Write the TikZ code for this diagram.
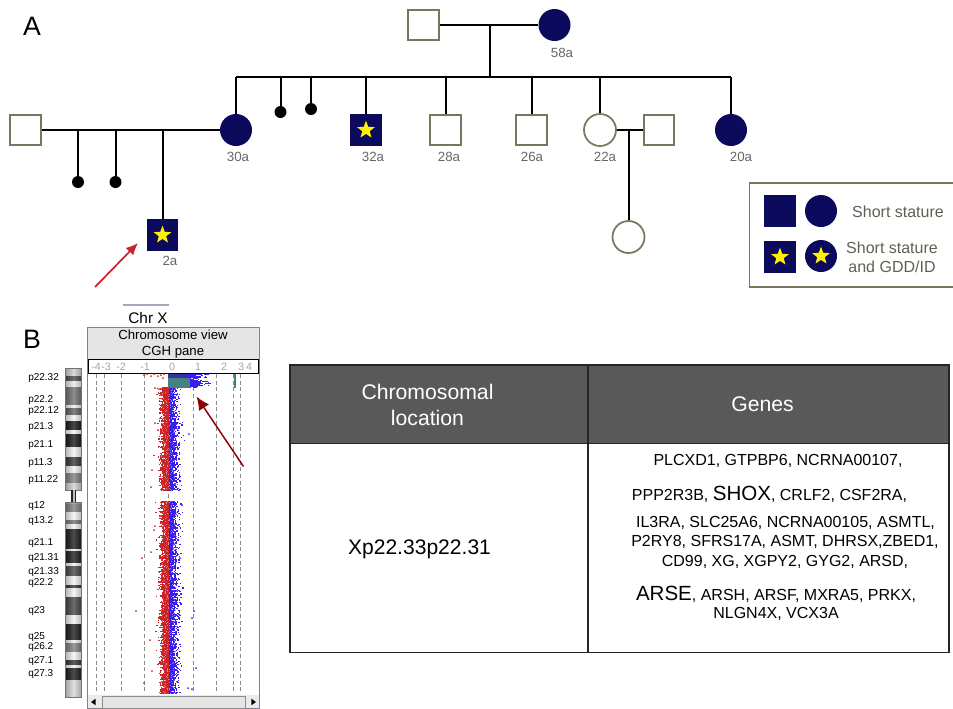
\documentclass[tikz,border=0pt]{standalone}
\usepackage{fontspec}
\setmainfont{Liberation Sans}
\usepackage{tikz}
\usetikzlibrary{shapes.geometric,arrows,arrows.meta,positioning}
\definecolor{navyfill}{HTML}{0B0A5C}
\definecolor{oliveline}{HTML}{77775F}
\definecolor{legendtext}{HTML}{5E6152}
\definecolor{agetext}{HTML}{666666}
\definecolor{headgrey}{HTML}{595959}
\definecolor{paneblue}{HTML}{3A1EF0}
\definecolor{panered}{HTML}{CC2428}
\tikzset{
  openbox/.style={rectangle,draw=oliveline,fill=white,line width=1.5pt,minimum size=23pt,inner sep=0pt},
  opencirc/.style={circle,draw=oliveline,fill=white,line width=1.3pt,minimum size=24pt,inner sep=0pt},
  sickbox/.style={rectangle,fill=navyfill,minimum size=23.5pt,inner sep=0pt},
  sickcirc/.style={circle,fill=navyfill,minimum size=24pt,inner sep=0pt},
  staricon/.style={star,star points=5,star point ratio=2.4,fill=yellow,inner sep=0pt,minimum size=14pt},
  lolli/.style={circle,fill=black,minimum size=9pt,inner sep=0pt},
  agelab/.style={text=agetext,font=\fontsize{10}{11}\selectfont},
  bandlab/.style={anchor=west,inner sep=0pt,font=\fontsize{7.5}{9}\selectfont},
  genelab/.style={inner sep=0pt,font=\fontsize{12}{14}\selectfont},
  leglab/.style={text=legendtext,align=center,font=\fontsize{12}{14.4}\selectfont},
  heavy/.style={line width=1.5pt,black}
}
\begin{document}
\begin{tikzpicture}[x=0.75pt,y=-0.75pt]
   \useasboundingbox (0,0) rectangle (953,708);
   \node[font=\fontsize{20}{22}\selectfont] (panelA) at (32,26) {A};
   \node[font=\fontsize{20}{22}\selectfont] (panelB) at (32,339) {B};

   \node[openbox] (gf) at (423.5,25) {};
   \node[sickcirc] (gm) at (554.5,25) {};
   \node[sickcirc] (c30) at (236,130) {};
   \node[lolli] (d1) at (280.5,112) {};
   \node[lolli] (d2) at (311,109) {};
   \node[sickbox] (s32) at (366,130) {};
   \node[staricon] (star32) at (366,130) {};
   \node[openbox] (s28) at (445.5,130) {};
   \node[openbox] (s26) at (531.5,130) {};
   \node[opencirc] (c22) at (600,130) {};
   \node[openbox] (sp22) at (659,130) {};
   \node[sickcirc] (c20) at (731,130) {};
   \node[openbox] (sp30) at (25.5,130) {};
   \node[lolli] (d3) at (78,182) {};
   \node[lolli] (d4) at (115.5,182) {};
   \node[sickbox] (s2) at (162.5,235) {};
   \node[staricon] (star2) at (162.5,235) {};
   \node[opencirc] (c0) at (628.5,237) {};

   \coordinate (top) at (489.5,25);
   \coordinate (bar) at (489.5,77);
   \coordinate (low) at (162.5,130);
   \coordinate (mid) at (628.5,130);
   \begin{scope}[every path/.style={heavy}]
    \draw (gf) -- (gm);
    \draw (top) -- (bar);
    \draw (c30 |- bar) -- (c20 |- bar);
    \draw (c30 |- bar) -- (c30);
    \draw (d1 |- bar) -- (d1);
    \draw (d2 |- bar) -- (d2);
    \draw (s32 |- bar) -- (s32);
    \draw (s28 |- bar) -- (s28);
    \draw (s26 |- bar) -- (s26);
    \draw (c22 |- bar) -- (c22);
    \draw (c20 |- bar) -- (c20);
    \draw (sp30) -- (c30);
    \draw (d3 |- sp30) -- (d3);
    \draw (d4 |- sp30) -- (d4);
    \draw (low) -- (s2);
    \draw (c22) -- (sp22);
    \draw (mid) -- (c0);
   \end{scope}

   \node[agelab] (a58) at (562,52.5) {58a};
   \node[agelab] (a30) at (238,156.5) {30a};
   \node[agelab] (a32) at (373,157) {32a};
   \node[agelab] (a28) at (449,157) {28a};
   \node[agelab] (a26) at (532,157) {26a};
   \node[agelab] (a22) at (605,157) {22a};
   \node[agelab] (a20) at (741,157) {20a};
   \node[agelab] (a2) at (170,261) {2a};

   \coordinate (redtail) at (95,287);
   \coordinate (redhead) at (138,243);
   \draw[-{Latex[length=9pt,width=8pt]},line width=1.3pt,panered] (redtail) -- (redhead);

   \coordinate (lega) at (953,183);
   \coordinate (legb) at (749.5,183);
   \coordinate (legc) at (749.5,287);
   \coordinate (legd) at (953,287);
   \draw[oliveline,line width=1pt] (lega) -- (legb) -- (legc) -- (legd);
   \node[sickbox] (k1) at (780,211) {};
   \node[sickcirc] (k2) at (821,211) {};
   \node[sickbox] (k3) at (780,257) {};
   \node[staricon] (k3s) at (780,257) {};
   \node[sickcirc] (k4) at (821,256) {};
   \node[staricon] (k4s) at (821,256) {};
   \node[leglab] (kt1) at (898,212) {Short stature};
   \node[leglab] (kt2) at (892,257) {Short stature\\and GDD/ID};

   \coordinate (chra) at (123,305);
   \coordinate (chrb) at (169,305);
   \draw[line width=1.2pt,blue!25!black!35] (chra) -- (chrb);
   \node[font=\fontsize{11.5}{13}\selectfont] (chrx) at (148,318) {Chr X};

   \fill[black!10] (87,327) rectangle (259,360);
   \draw[blue!15!black!50,line width=0.7pt] (87,327) rectangle (259,708);
   \node[align=center,font=\fontsize{9.9}{12}\selectfont] (panetitle) at (173,344) {Chromosome view\\CGH pane};
   \draw[black,line width=0.7pt,fill=white] (88,359.5) rectangle (258,373);
   \foreach \xx/\lab in {96/-4,106/-3,121/-2,145/-1,172/0,198/1,224/2,241/3,249/4}
     \node[text=black!35,inner sep=0pt,font=\fontsize{8}{9}\selectfont] (sc\xx) at (\xx,366.5) {\lab};
   \foreach \xx in {96,104,121,144,168,193,216,233,240}
     \draw[densely dashed,black!45,line width=0.4pt] (\xx,374) -- (\xx,694);

   \pgfmathsetseed{4217}
   \foreach \yy in {388,389.2,...,491,501,502.2,...,694} {
     \pgfmathsetmacro{\wa}{3+5.5*rnd}
     \pgfmathsetmacro{\wb}{3.5+6*rnd}
     \pgfmathsetmacro{\ea}{\wa+7*rnd*rnd*rnd+1}
     \pgfmathsetmacro{\eb}{\wb+7*rnd*rnd*rnd+1}
     \pgfmathsetmacro{\ga}{\wa*rnd}
     \pgfmathsetmacro{\gb}{\wb*rnd}
     \fill[panered] (168-\wa,\yy) rectangle (168.5,\yy+1.2);
     \fill[paneblue] (168.5,\yy) rectangle (168.5+\wb,\yy+1.2);
     \fill[panered] (168-\ea,\yy) rectangle (169.5-\ea,\yy+1.2);
     \fill[paneblue] (168.5+\eb,\yy) rectangle (170+\eb,\yy+1.2);
     \fill[panered!55!white] (168-\ga,\yy) rectangle (168.6-\ga,\yy+0.7);
     \fill[paneblue!55!white] (168.5+\gb,\yy) rectangle (169.1+\gb,\yy+0.7);
   }
   \foreach \xx/\yy in {136/611,142/558,144/683,151/552,150/640,152/671,155/423,152/470,158/430,151/487,154/530,155/526}
     \fill[panered] (\xx,\yy) circle (1);
   \foreach \xx/\yy in {194/611,192/618,196/668,188/688,192/689,180/558,182/505,189/434}
     \fill[paneblue] (\xx,\yy) circle (1);
   \foreach \yy in {374,375,...,387} {
     \pgfmathsetmacro{\wb}{20+16*rnd}
     \fill[paneblue] (168,\yy) rectangle (168+\wb,\yy+1);
     \fill[paneblue] (168+\wb+7*rnd,\yy) rectangle (170+\wb+7*rnd,\yy+1);
   }
   \foreach \xx/\yy in {144/375,147/374,151/376,154/374,158/376,161/375,164/374,163/378,155/388,159/389}
     \fill[panered] (\xx,\yy) circle (1);
   \fill[panered] (162,387) rectangle (168,392);
   \fill[blue!50!black!80] (168,374) rectangle (185,378);
   \fill[teal!45!gray] (168,378) rectangle (190,387.5);
   \fill[teal!50!gray] (234.3,374) rectangle (235.7,388);

   \foreach \ya/\yb/\gv in {368/376/18,376/381/70,381/387/8,387/405/55,405/408/5,408/415/62,415/421/5,421/430/90,430/434/5,434/447/90,447/457/5,457/466/78,466/473/5,473/483/50,483/490/18,
     502/504/40,504/512/50,512/520/5,520/524/55,524/529/5,529/549/88,549/551/5,551/563/88,563/566/5,566/576/72,576/585/5,585/588/80,588/597/5,597/615/72,615/624/5,624/640/88,640/643/5,643/652/50,652/660/5,660/665/80,665/668/5,668/680/88,680/697/15}
     \shade[left color=black!\gv!white!75!black,right color=black!\gv!white!75!black,middle color=black!\gv!white!80!white] (65.5,\ya) rectangle (81.5,\yb);
   \draw[black!55,line width=0.5pt] (65.5,368) rectangle (81.5,490);
   \draw[black!55,line width=0.5pt] (65.5,502) rectangle (81.5,697);
   \fill[black!85] (71,490) rectangle (76,502);
   \fill[black!25] (72.5,490) rectangle (74.5,502);

   \foreach \lab/\yy in {p22.32/378,p22.2/400,p22.12/411,p21.3/427,p21.1/445,p11.3/463,p11.22/480,q12/506,q13.2/521,q21.1/543,q21.31/558,q21.33/572,q22.2/583,q23/611,q25/637,q26.2/647,q27.1/661,q27.3/674}
     \node[bandlab] (band\yy) at (28,\yy) {\lab};

   \fill[black!8] (87.5,695) rectangle (258.5,708);
   \draw[black!45,fill=white!90!black] (102,696) rectangle (245,708);
   \node[fill=black,isosceles triangle,isosceles triangle apex angle=70,shape border rotate=180,minimum height=3pt,minimum width=5pt,inner sep=0pt] (scrolla) at (94,702) {};
   \node[fill=black,isosceles triangle,isosceles triangle apex angle=70,minimum height=3pt,minimum width=5pt,inner sep=0pt] (scrollb) at (253,702) {};

   \coordinate (darktail) at (243.5,466.5);
   \coordinate (darkhead) at (196.5,396.5);
   \draw[-{Latex[length=10pt,width=9pt]},line width=1.1pt,red!55!black] (darktail) -- (darkhead);

   \fill[headgrey] (290,365) rectangle (949,443.5);
   \draw[black!85,line width=0.9pt] (290,365) rectangle (949,652.5);
   \draw[black!85,line width=0.9pt] (290,443.5) -- (949,443.5);
   \draw[black!85,line width=0.9pt] (588,365) -- (588,652.5);
   \node[text=white,align=center,font=\fontsize{15.9}{19.5}\selectfont] (hloc) at (427.5,405) {Chromosomal\\location};
   \node[text=white,font=\fontsize{15.9}{18}\selectfont] (hgen) at (762.5,404) {Genes};
   \node[font=\fontsize{15.8}{18}\selectfont] (xloc) at (419.5,549) {Xp22.33p22.31};
   \node[genelab] (g1) at (778,461) {PLCXD1, GTPBP6, NCRNA00107,};
   \node[genelab] (g2) at (769.5,494) {PPP2R3B, {\fontsize{15.4}{16}\selectfont SHOX}, CRLF2, CSF2RA,};
   \node[genelab] (g3) at (785.5,523) {IL3RA, SLC25A6, NCRNA00105, ASMTL,};
   \node[genelab] (g4) at (785,542) {P2RY8, SFRS17A, ASMT, DHRSX,ZBED1,};
   \node[genelab] (g5) at (785,562) {CD99, XG, XGPY2, GYG2, ARSD,};
   \node[genelab] (g6) at (776,594) {{\fontsize{15.4}{16}\selectfont ARSE}, ARSH, ARSF, MXRA5, PRKX,};
   \node[genelab] (g7) at (776,613.5) {NLGN4X, VCX3A};
\end{tikzpicture}
\end{document}
